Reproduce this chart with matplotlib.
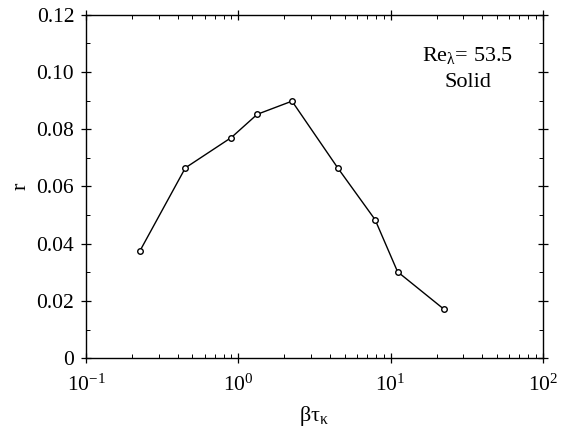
import matplotlib

matplotlib.use("Agg")

import matplotlib.pyplot as plt
from matplotlib.ticker import LogLocator, MultipleLocator, NullFormatter

plt.rcParams["font.family"] = ["Liberation Serif", "DejaVu Serif"]
plt.rcParams["mathtext.fontset"] = "stix"

# r versus beta*tau_k for the solid particle case
beta_tau = [0.226, 0.449, 0.90, 1.33, 2.25, 4.49, 7.90, 11.1, 22.4]
r_vals = [0.0375, 0.0665, 0.0771, 0.0852, 0.0898, 0.0665, 0.0484, 0.0302, 0.0171]

fig = plt.figure(figsize=(5.64, 4.28), dpi=100)
ax = fig.add_axes([0.1525, 0.163, 0.8103, 0.8027])

ax.plot(beta_tau, r_vals, color="black", linewidth=1.0, marker="o",
        markersize=4, markerfacecolor="white", markeredgewidth=1.0)

ax.set_xscale("log")
ax.set_xlim(0.1, 100)
ax.set_ylim(0, 0.12)

ax.xaxis.set_major_locator(LogLocator(base=10, numticks=10))
ax.xaxis.set_minor_locator(LogLocator(base=10, subs=range(2, 10), numticks=10))
ax.xaxis.set_minor_formatter(NullFormatter())
ax.yaxis.set_minor_locator(MultipleLocator(0.01))
ax.set_yticks([0, 0.02, 0.04, 0.06, 0.08, 0.10, 0.12])
ax.set_yticklabels(["0", "0.02", "0.04", "0.06", "0.08", "0.10", "0.12"])

ax.tick_params(which="major", direction="inout", length=7, width=0.9,
               top=True, right=True, labelsize=15.5, pad=5)
ax.tick_params(axis="x", which="major", pad=8)
ax.tick_params(which="minor", direction="in", length=3, width=0.7,
               top=True, right=True)
for s in ax.spines.values():
    s.set_linewidth(1.0)

ax.set_xlabel(r"$\mathregular{\beta\tau_\kappa}$", fontsize=16, labelpad=6)
ax.set_ylabel("r", fontsize=16, labelpad=4)

ax.text(0.835, 0.882, r"Re$\mathregular{_\lambda}$= 53.5", transform=ax.transAxes,
        ha="center", va="center", fontsize=16)
ax.text(0.835, 0.803, "Solid", transform=ax.transAxes,
        ha="center", va="center", fontsize=16)

fig.savefig("out.png", dpi=100)
plt.close(fig)
